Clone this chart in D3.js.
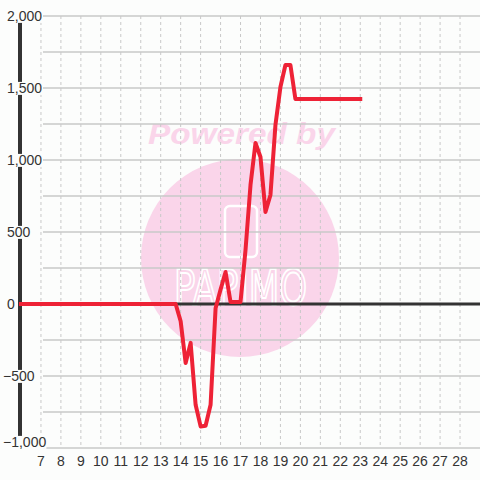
<!DOCTYPE html>
<html>
<head>
<meta charset="utf-8" />
<title>line chart</title>
<style>
  body { margin: 0; background: #fcfdfc; }
  svg { display: block; font-family: "Liberation Sans", Arial, sans-serif; }
</style>
</head>
<body>
<svg id="chart" width="480" height="480"></svg>
<script src="https://d3js.org/d3.v7.min.js"></script>
<script>
// data
var xValues = [6, 13.75, 14, 14.25, 14.5, 14.75, 15, 15.25, 15.5, 15.75, 16, 16.25, 16.5, 16.75, 17,
  17.25, 17.5, 17.75, 18, 18.25, 18.5, 18.75, 19, 19.25, 19.5, 19.75, 23];
var yValues = [0, 0, -120, -410, -270, -700, -850, -845, -700, -30, 100, 222, 14, 14, 14,
  375, 826, 1118, 1021, 639, 757, 1243, 1507, 1660, 1660, 1424, 1424];
var xTicks = d3.range(7, 29);
var yTicks = [-1000, -500, 0, 500, 1000, 1500, 2000];
var yGrid = d3.range(-1000, 2001, 250);

var svg = d3.select("#chart");
var bg = "#fcfdfc";

var x = d3.scaleLinear().domain([6, 29]).range([21, 480]);
var y = d3.scaleLinear().domain([-1000, 2000]).range([448, 16]);

// watermark
var wm = svg.append("g");
wm.append("circle").attr("cx", 240).attr("cy", 258).attr("r", 99).attr("fill", "#fad5ea");
wm.append("text")
  .attr("x", 148).attr("y", 144)
  .attr("textLength", 187).attr("lengthAdjust", "spacingAndGlyphs")
  .attr("font-size", 29).attr("font-weight", "bold").attr("font-style", "italic")
  .attr("fill", "#fad5ea")
  .text("Powered by");
wm.append("rect")
  .attr("x", 225).attr("y", 206).attr("width", 32).attr("height", 51).attr("rx", 5)
  .attr("fill", "none").attr("stroke", "#fff").attr("stroke-width", 2.5);
wm.append("text")
  .attr("x", 174).attr("y", 305)
  .attr("textLength", 133).attr("lengthAdjust", "spacingAndGlyphs")
  .attr("font-size", 50).attr("font-family", "DejaVu Sans Condensed, sans-serif")
  .attr("fill", "none").attr("stroke", "#fff").attr("stroke-width", 2)
  .text("PAPIMO");

// grid
svg.append("g").selectAll("line")
  .data(xTicks)
  .enter().append("line")
  .attr("x1", function(d){ return x(d); }).attr("x2", function(d){ return x(d); })
  .attr("y1", 16).attr("y2", 448)
  .attr("stroke", "#c8c8c8").attr("stroke-dasharray", "3,3");

svg.append("g").selectAll("line")
  .data(yGrid)
  .enter().append("line")
  .attr("x1", 43).attr("x2", 480)
  .attr("y1", function(d){ return y(d); }).attr("y2", function(d){ return y(d); })
  .attr("stroke", "#c8c8c8").attr("stroke-width", 1.5);

// y axis line and zero line
svg.append("line")
  .attr("x1", 20).attr("x2", 20).attr("y1", 16).attr("y2", 448)
  .attr("stroke", "#333").attr("stroke-width", 4);
svg.append("line")
  .attr("x1", 18).attr("x2", 480).attr("y1", y(0)).attr("y2", y(0))
  .attr("stroke", "#333").attr("stroke-width", 3);

// y labels with background
var fmt = d3.format(",");
var yl = svg.append("g").selectAll("g")
  .data(yTicks)
  .enter().append("g");
yl.append("text")
  .attr("x", function(d){ return d < 0 ? 3 : 7; })
  .attr("y", function(d){ return d == -1000 ? y(d) - 6 : y(d); })
  .attr("dy", "0.35em")
  .attr("font-size", 14).attr("fill", "#333")
  .text(function(d){ return fmt(d); });
yl.each(function(){
  var t = d3.select(this).select("text");
  var b = t.node().getBBox();
  d3.select(this).insert("rect", "text")
    .attr("x", b.x).attr("y", b.y + 2).attr("width", b.width).attr("height", b.height - 3)
    .attr("fill", bg);
});

// x labels
svg.append("g").selectAll("text")
  .data(xTicks)
  .enter().append("text")
  .attr("x", function(d){ return x(d); })
  .attr("y", 466)
  .attr("text-anchor", "middle")
  .attr("font-size", 14).attr("fill", "#333")
  .text(function(d){ return d; });

// the series
var line = d3.line()
  .x(function(d){ return x(d[0]); })
  .y(function(d){ return y(d[1]); });

svg.append("path")
  .datum(d3.zip(xValues, yValues))
  .attr("d", line)
  .attr("fill", "none")
  .attr("stroke", "#ee2236")
  .attr("stroke-width", 4)
  .attr("stroke-linejoin", "round")
  .attr("stroke-linecap", "square");
</script>
</body>
</html>
